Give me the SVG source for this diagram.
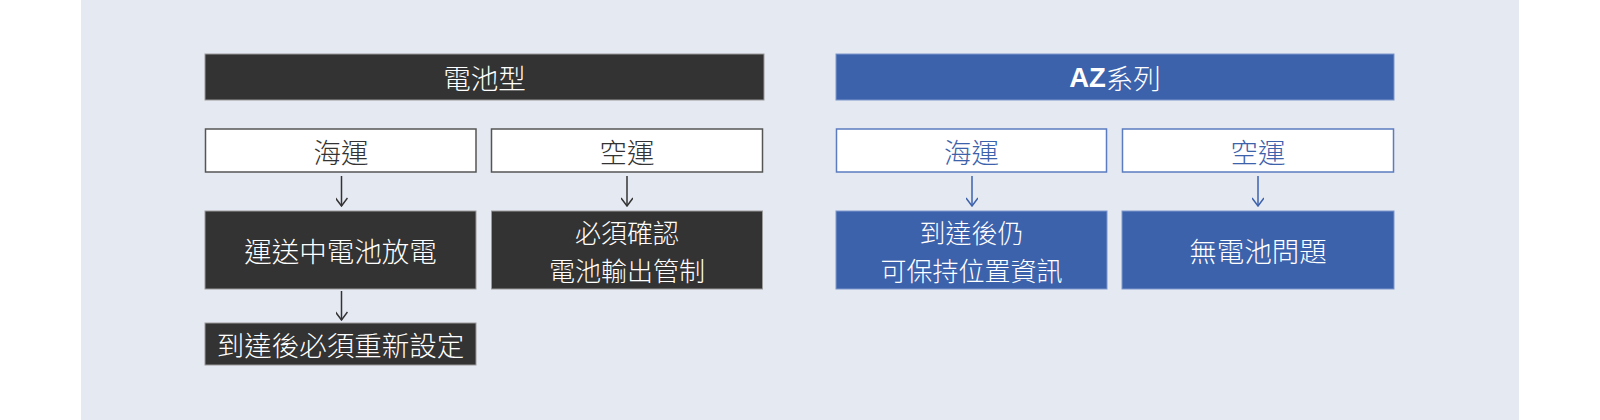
<svg xmlns="http://www.w3.org/2000/svg" width="1600" height="420" viewBox="0 0 1600 420">
<defs>
<style>
text{font-family:"Noto Sans CJK TC","Noto Sans",sans-serif;font-size:27.5px;font-weight:300;text-anchor:middle;dominant-baseline:central}
.two{font-size:26px}
.dk{fill:#333333;stroke:#9a9a9a;stroke-width:1}
.wd{fill:#ffffff;stroke:#555555;stroke-width:1.5}
.bl{fill:#3d62ac;stroke:#7e97cc;stroke-width:1}
.wb{fill:#ffffff;stroke:#5b7cc0;stroke-width:1.5}
.tw{fill:#ffffff}
.td{fill:#333333}
.tb{fill:#3d62ac}
.ad{stroke:#333333;stroke-width:1.5;fill:none}
.ab{stroke:#3d62ac;stroke-width:1.5;fill:none}
</style>
<marker id="mD" viewBox="0 0 10 12" refX="9" refY="6" markerWidth="10" markerHeight="12" markerUnits="userSpaceOnUse" orient="auto">
<path d="M1,0 L9,6 L1,12" fill="none" stroke="#333333" stroke-width="1.5"/>
</marker>
<marker id="mB" viewBox="0 0 10 12" refX="9" refY="6" markerWidth="10" markerHeight="12" markerUnits="userSpaceOnUse" orient="auto">
<path d="M1,0 L9,6 L1,12" fill="none" stroke="#3d62ac" stroke-width="1.5"/>
</marker>
</defs>
<rect x="0" y="0" width="1600" height="420" fill="#ffffff"/>
<rect x="81" y="0" width="1438" height="420" fill="#e5e9f2"/>

<g id="connectors">
<line class="ad" x1="341.5" y1="176" x2="341.5" y2="206" marker-end="url(#mD)"/>
<line class="ad" x1="627" y1="176" x2="627" y2="206" marker-end="url(#mD)"/>
<line class="ad" x1="341.5" y1="291" x2="341.5" y2="320" marker-end="url(#mD)"/>
<line class="ab" x1="972" y1="176" x2="972" y2="206" marker-end="url(#mB)"/>
<line class="ab" x1="1258" y1="176" x2="1258" y2="206" marker-end="url(#mB)"/>
</g>

<g id="battery-header">
<rect class="dk" x="205" y="54" width="559" height="46"/>
<text class="tw" x="484.5" y="77">電池型</text>
</g>
<g id="battery-sea">
<rect class="wd" x="205.5" y="129" width="270.5" height="43"/>
<text class="td" x="341" y="150.5">海運</text>
</g>
<g id="battery-air">
<rect class="wd" x="491.5" y="129" width="271" height="43"/>
<text class="td" x="627" y="150.5">空運</text>
</g>
<g id="battery-sea-result">
<rect class="dk" x="205" y="211" width="271" height="78"/>
<text class="tw" x="340.5" y="250">運送中電池放電</text>
</g>
<g id="battery-air-result">
<rect class="dk" x="491.5" y="211" width="271" height="78"/>
<text class="tw two" x="627" y="231">必須確認</text>
<text class="tw two" x="627" y="269">電池輸出管制</text>
</g>
<g id="battery-reset">
<rect class="dk" x="205" y="323" width="271" height="42"/>
<text class="tw" x="340.5" y="344">到達後必須重新設定</text>
</g>

<g id="az-header">
<rect class="bl" x="836" y="54" width="558" height="46"/>
<text class="tw" x="1115" y="77"><tspan font-weight="900" font-family="'Liberation Sans',sans-serif">AZ</tspan>系列</text>
</g>
<g id="az-sea">
<rect class="wb" x="836.5" y="129" width="270" height="43"/>
<text class="tb" x="971.5" y="150.5">海運</text>
</g>
<g id="az-air">
<rect class="wb" x="1122.5" y="129" width="271" height="43"/>
<text class="tb" x="1258" y="150.5">空運</text>
</g>
<g id="az-sea-result">
<rect class="bl" x="836" y="211" width="271" height="78"/>
<text class="tw two" x="971.5" y="231">到達後仍</text>
<text class="tw two" x="971.5" y="269">可保持位置資訊</text>
</g>
<g id="az-air-result">
<rect class="bl" x="1122" y="211" width="272" height="78"/>
<text class="tw" x="1258" y="250">無電池問題</text>
</g>
</svg>
